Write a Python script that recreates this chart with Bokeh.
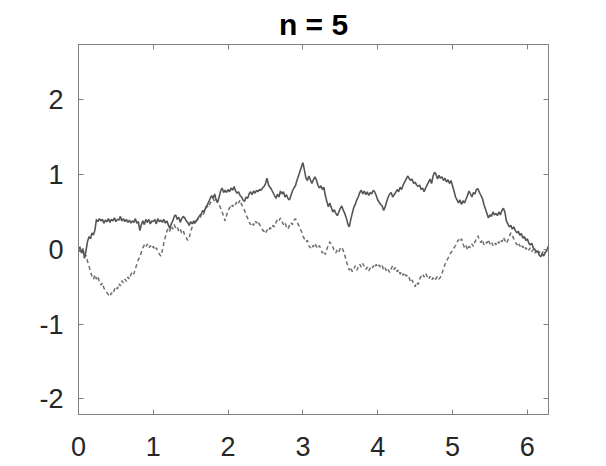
from bokeh.plotting import figure
from bokeh.models import LinearAxis, FixedTicker, Range1d
from bokeh.embed import file_html
from bokeh.resources import INLINE

TITLE = "n = 5"
X_TICKS = [0, 1, 2, 3, 4, 5, 6]
Y_TICKS = [-2, -1, 0, 1, 2]
Y_TICK_LABELS = ["-2", "-1", "0", "1", "2"]

T = [
    0.00, 0.02, 0.04, 0.06, 0.08, 0.10, 0.12, 0.14, 0.16, 0.18,
    0.20, 0.22, 0.24, 0.26, 0.28, 0.30, 0.32, 0.34, 0.36, 0.38,
    0.40, 0.42, 0.44, 0.46, 0.48, 0.50, 0.52, 0.54, 0.56, 0.58,
    0.60, 0.62, 0.64, 0.66, 0.68, 0.70, 0.72, 0.74, 0.76, 0.78,
    0.80, 0.82, 0.84, 0.86, 0.88, 0.90, 0.92, 0.94, 0.96, 0.98,
    1.00, 1.02, 1.04, 1.06, 1.08, 1.10, 1.12, 1.14, 1.16, 1.18,
    1.20, 1.22, 1.24, 1.26, 1.28, 1.30, 1.32, 1.34, 1.36, 1.38,
    1.40, 1.42, 1.44, 1.46, 1.48, 1.50, 1.52, 1.54, 1.56, 1.58,
    1.60, 1.62, 1.64, 1.66, 1.68, 1.70, 1.72, 1.74, 1.76, 1.78,
    1.80, 1.82, 1.84, 1.86, 1.88, 1.90, 1.92, 1.94, 1.96, 1.98,
    2.00, 2.02, 2.04, 2.06, 2.08, 2.10, 2.12, 2.14, 2.16, 2.18,
    2.20, 2.22, 2.24, 2.26, 2.28, 2.30, 2.32, 2.34, 2.36, 2.38,
    2.40, 2.42, 2.44, 2.46, 2.48, 2.50, 2.52, 2.54, 2.56, 2.58,
    2.60, 2.62, 2.64, 2.66, 2.68, 2.70, 2.72, 2.74, 2.76, 2.78,
    2.80, 2.82, 2.84, 2.86, 2.88, 2.90, 2.92, 2.94, 2.96, 2.98,
    3.00, 3.02, 3.04, 3.06, 3.08, 3.10, 3.12, 3.14, 3.16, 3.18,
    3.20, 3.22, 3.24, 3.26, 3.28, 3.30, 3.32, 3.34, 3.36, 3.38,
    3.40, 3.42, 3.44, 3.46, 3.48, 3.50, 3.52, 3.54, 3.56, 3.58,
    3.60, 3.62, 3.64, 3.66, 3.68, 3.70, 3.72, 3.74, 3.76, 3.78,
    3.80, 3.82, 3.84, 3.86, 3.88, 3.90, 3.92, 3.94, 3.96, 3.98,
    4.00, 4.02, 4.04, 4.06, 4.08, 4.10, 4.12, 4.14, 4.16, 4.18,
    4.20, 4.22, 4.24, 4.26, 4.28, 4.30, 4.32, 4.34, 4.36, 4.38,
    4.40, 4.42, 4.44, 4.46, 4.48, 4.50, 4.52, 4.54, 4.56, 4.58,
    4.60, 4.62, 4.64, 4.66, 4.68, 4.70, 4.72, 4.74, 4.76, 4.78,
    4.80, 4.82, 4.84, 4.86, 4.88, 4.90, 4.92, 4.94, 4.96, 4.98,
    5.00, 5.02, 5.04, 5.06, 5.08, 5.10, 5.12, 5.14, 5.16, 5.18,
    5.20, 5.22, 5.24, 5.26, 5.28, 5.30, 5.32, 5.34, 5.36, 5.38,
    5.40, 5.42, 5.44, 5.46, 5.48, 5.50, 5.52, 5.54, 5.56, 5.58,
    5.60, 5.62, 5.64, 5.66, 5.68, 5.70, 5.72, 5.74, 5.76, 5.78,
    5.80, 5.82, 5.84, 5.86, 5.88, 5.90, 5.92, 5.94, 5.96, 5.98,
    6.00, 6.02, 6.04, 6.06, 6.08, 6.10, 6.12, 6.14, 6.16, 6.18,
    6.20, 6.22, 6.24, 6.26, 6.28,
]

SOLID = [
    0.00, 0.03, -0.05, 0.01, -0.12, -0.02, 0.10, 0.17, 0.14, 0.22,
    0.19, 0.26, 0.40, 0.37, 0.41, 0.38, 0.40, 0.35, 0.39, 0.37,
    0.41, 0.36, 0.40, 0.38, 0.42, 0.37, 0.40, 0.39, 0.44, 0.38,
    0.41, 0.37, 0.40, 0.36, 0.39, 0.35, 0.38, 0.36, 0.41, 0.35,
    0.37, 0.25, 0.33, 0.38, 0.33, 0.40, 0.36, 0.40, 0.34, 0.38,
    0.37, 0.40, 0.34, 0.41, 0.37, 0.39, 0.36, 0.40, 0.35, 0.38,
    0.33, 0.28, 0.34, 0.38, 0.44, 0.46, 0.40, 0.43, 0.36, 0.41,
    0.44, 0.42, 0.38, 0.36, 0.32, 0.37, 0.34, 0.38, 0.35, 0.39,
    0.42, 0.45, 0.47, 0.52, 0.50, 0.56, 0.59, 0.63, 0.68, 0.72,
    0.68, 0.74, 0.66, 0.63, 0.70, 0.78, 0.82, 0.76, 0.79, 0.76,
    0.80, 0.77, 0.82, 0.79, 0.84, 0.78, 0.75, 0.77, 0.72, 0.70,
    0.66, 0.64, 0.70, 0.68, 0.74, 0.77, 0.73, 0.78, 0.75, 0.79,
    0.77, 0.80, 0.79, 0.82, 0.84, 0.88, 0.95, 0.86, 0.83, 0.80,
    0.76, 0.72, 0.68, 0.74, 0.70, 0.78, 0.74, 0.77, 0.70, 0.73,
    0.68, 0.66, 0.72, 0.78, 0.82, 0.85, 0.92, 0.98, 1.04, 1.10,
    1.16, 1.06, 0.96, 0.92, 0.98, 0.93, 0.88, 0.93, 0.97, 0.93,
    0.86, 0.82, 0.85, 0.80, 0.83, 0.72, 0.64, 0.57, 0.62, 0.56,
    0.50, 0.53, 0.48, 0.45, 0.50, 0.55, 0.58, 0.52, 0.48, 0.42,
    0.34, 0.30, 0.40, 0.48, 0.56, 0.60, 0.66, 0.70, 0.76, 0.79,
    0.74, 0.78, 0.73, 0.77, 0.72, 0.76, 0.74, 0.79, 0.77, 0.72,
    0.66, 0.63, 0.60, 0.58, 0.52, 0.57, 0.64, 0.70, 0.74, 0.76,
    0.70, 0.73, 0.76, 0.80, 0.77, 0.83, 0.80, 0.86, 0.90, 0.94,
    0.98, 0.95, 0.92, 0.94, 0.88, 0.90, 0.86, 0.84, 0.86, 0.80,
    0.82, 0.77, 0.82, 0.86, 0.90, 0.94, 0.88, 0.98, 1.03, 1.00,
    0.94, 0.99, 0.95, 0.97, 0.92, 0.95, 0.90, 0.93, 0.88, 0.92,
    0.85, 0.78, 0.70, 0.66, 0.62, 0.66, 0.60, 0.65, 0.62, 0.67,
    0.72, 0.78, 0.74, 0.70, 0.76, 0.74, 0.80, 0.81, 0.76, 0.72,
    0.68, 0.60, 0.54, 0.48, 0.42, 0.46, 0.44, 0.50, 0.46, 0.48,
    0.45, 0.50, 0.46, 0.52, 0.55, 0.50, 0.38, 0.34, 0.30, 0.32,
    0.27, 0.30, 0.25, 0.22, 0.24, 0.19, 0.21, 0.15, 0.17, 0.12,
    0.14, 0.08, 0.06, 0.08, 0.02, 0.00, -0.04, -0.02, -0.08, -0.10,
    -0.06, -0.09, -0.04, -0.02, 0.04,
]

DASHED = [
    0.00, -0.03, 0.01, -0.05, -0.10, -0.08, -0.16, -0.22, -0.30, -0.36,
    -0.40, -0.34, -0.40, -0.36, -0.44, -0.48, -0.45, -0.52, -0.55, -0.58,
    -0.61, -0.63, -0.58, -0.60, -0.54, -0.50, -0.53, -0.46, -0.49, -0.42,
    -0.45, -0.40, -0.43, -0.37, -0.40, -0.34, -0.30, -0.33, -0.26, -0.20,
    -0.14, -0.10, -0.04, 0.02, 0.06, 0.03, 0.07, 0.02, 0.05, 0.01,
    0.04, -0.01, 0.02, -0.03, -0.06, -0.09, -0.02, 0.08, 0.16, 0.24,
    0.28, 0.24, 0.31, 0.27, 0.33, 0.28, 0.30, 0.24, 0.27, 0.22,
    0.25, 0.19, 0.16, 0.12, 0.15, 0.24, 0.30, 0.34, 0.38, 0.36,
    0.42, 0.40, 0.46, 0.44, 0.50, 0.54, 0.58, 0.56, 0.62, 0.64,
    0.68, 0.64, 0.67, 0.62, 0.60, 0.55, 0.50, 0.44, 0.38, 0.46,
    0.52, 0.55, 0.60, 0.57, 0.62, 0.60, 0.65, 0.62, 0.66, 0.60,
    0.56, 0.52, 0.46, 0.42, 0.37, 0.33, 0.36, 0.32, 0.38, 0.35,
    0.38, 0.33, 0.30, 0.26, 0.24, 0.21, 0.26, 0.24, 0.29, 0.27,
    0.32, 0.30, 0.36, 0.40, 0.38, 0.42, 0.37, 0.33, 0.36, 0.30,
    0.27, 0.32, 0.36, 0.33, 0.39, 0.41, 0.37, 0.33, 0.28, 0.24,
    0.18, 0.14, 0.10, 0.12, 0.05, 0.02, 0.06, 0.03, 0.08, 0.04,
    0.01, 0.05, 0.00, -0.05, -0.02, -0.07, 0.00, 0.06, 0.10, 0.07,
    0.03, -0.02, -0.05, 0.00, -0.03, 0.01, 0.03, -0.02, -0.08, -0.16,
    -0.22, -0.28, -0.24, -0.30, -0.26, -0.22, -0.28, -0.24, -0.20, -0.24,
    -0.19, -0.23, -0.27, -0.24, -0.29, -0.25, -0.27, -0.22, -0.25, -0.20,
    -0.24, -0.21, -0.25, -0.22, -0.28, -0.25, -0.30, -0.27, -0.31, -0.26,
    -0.22, -0.27, -0.24, -0.30, -0.27, -0.33, -0.30, -0.35, -0.31, -0.36,
    -0.34, -0.38, -0.44, -0.41, -0.46, -0.50, -0.44, -0.47, -0.40, -0.36,
    -0.33, -0.37, -0.32, -0.36, -0.40, -0.36, -0.41, -0.38, -0.42, -0.39,
    -0.36, -0.40, -0.37, -0.32, -0.26, -0.20, -0.16, -0.12, -0.08, -0.04,
    -0.02, 0.02, 0.05, 0.09, 0.13, 0.10, 0.14, 0.08, 0.02, 0.05,
    -0.01, 0.04, 0.02, 0.07, 0.04, 0.10, 0.14, 0.18, 0.12, 0.09,
    0.13, 0.06, 0.10, 0.08, 0.13, 0.07, 0.10, 0.05, 0.09, 0.06,
    0.11, 0.08, 0.13, 0.10, 0.16, 0.12, 0.08, 0.12, 0.17, 0.22,
    0.18, 0.14, 0.10, 0.06, 0.09, 0.04, 0.07, 0.02, 0.05, 0.00,
    0.03, -0.01, 0.02, -0.03, 0.00, -0.05, -0.02, -0.06, -0.03, -0.08,
    -0.05, -0.02, -0.05, 0.00, 0.01,
]

FONT = "Liberation Sans"
AXIS_COLOR = "#808080"
LABEL_COLOR = "#262626"

p = figure(
    width=600, height=466,
    x_range=Range1d(0, 6.2832), y_range=Range1d(-2.21, 2.74),
    output_backend="svg", toolbar_location=None,
    min_border_left=78, min_border_right=52, min_border_top=44, min_border_bottom=52,
)
p.title.text = TITLE
p.title.align = "center"
p.title.text_font = FONT
p.title.text_font_size = "30px"
p.title.text_font_style = "bold"
p.title.text_color = "#000000"
p.title.standoff = 7

p.grid.visible = False
p.outline_line_color = AXIS_COLOR
p.background_fill_color = "white"
p.border_fill_color = "white"

p.line(T, DASHED, line_color="#6e6e6e", line_width=1.5, line_dash="4 3")
p.line(T, SOLID, line_color="#555555", line_width=1.6)

p.add_layout(LinearAxis(), "above")
p.add_layout(LinearAxis(), "right")

for ax in p.xaxis:
    ax.ticker = FixedTicker(ticks=X_TICKS)
for ax in p.yaxis:
    ax.ticker = FixedTicker(ticks=Y_TICKS)

for ax in p.axis:
    ax.axis_line_color = AXIS_COLOR
    ax.major_tick_line_color = AXIS_COLOR
    ax.major_tick_in = 5
    ax.major_tick_out = 0
    ax.minor_tick_line_color = None
    ax.major_label_text_font = FONT
    ax.major_label_text_font_size = "27px"
    ax.major_label_text_color = LABEL_COLOR

p.left[0].major_label_overrides = {t: s for t, s in zip(Y_TICKS, Y_TICK_LABELS)}
p.below[0].major_label_standoff = 22
p.left[0].major_label_standoff = 15
p.above[0].major_label_text_color = None
p.right[0].major_label_text_color = None
p.above[0].major_label_text_font_size = "0px"
p.right[0].major_label_text_font_size = "0px"

open("out.html", "w").write(file_html(p, INLINE))
